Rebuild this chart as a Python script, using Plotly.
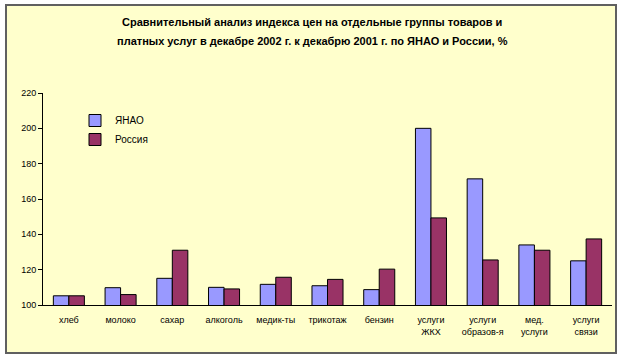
import plotly.graph_objects as go

categories = ["хлеб", "молоко", "сахар", "алкоголь", "медик-ты", "трикотаж", "бензин",
              "услуги<br>ЖКХ", "услуги<br>образов-я", "мед.<br>услуги", "услуги<br>связи"]
yanao = [105.2, 109.8, 115.1, 110.0, 111.7, 110.9, 108.7, 200.0, 171.4, 134.0, 125.0]
russia = [105.2, 105.9, 131.0, 109.1, 115.7, 114.5, 120.3, 149.3, 125.5, 131.0, 137.4]
yticks = [100, 120, 140, 160, 180, 200, 220]
title_lines = ["Сравнительный анализ индекса цен на отдельные группы товаров и",
               "платных услуг в декабре 2002 г. к декабрю 2001 г. по ЯНАО и России, %"]

fig = go.Figure()
fig.add_trace(go.Bar(name="ЯНАО", x=categories, y=yanao,
                     marker=dict(color="#9999FF", line=dict(color="#000000", width=1))))
fig.add_trace(go.Bar(name="Россия", x=categories, y=russia,
                     marker=dict(color="#993366", line=dict(color="#000000", width=1))))

L, R, T, B = 43, 612, 93, 305
W = R - L
H = B - T

def px(x):
    return (x - L) / W

def py(y):
    return (B - y) / H

annotations = []
for line, yc in zip(title_lines, [22, 41]):
    annotations.append(dict(text="<b>" + line + "</b>", xref="paper", yref="paper",
                            x=px(312), y=py(yc), xanchor="center", yanchor="middle",
                            showarrow=False,
                            font=dict(family="Arial, Liberation Sans", size=11, color="#000000")))

fig.update_layout(
    width=624, height=360,
    margin=dict(l=L, r=624 - R, t=T, b=360 - B),
    paper_bgcolor="#FFFFFF",
    plot_bgcolor="#FFFFCC",
    barmode="group", bargap=0.4, bargroupgap=0,
    font=dict(family="Arial, Liberation Sans", size=9, color="#000000"),
    annotations=annotations,
    legend=dict(x=px(75), y=py(106), xanchor="left", yanchor="top", bgcolor="rgba(0,0,0,0)",
                font=dict(size=10), itemwidth=30, tracegroupgap=2),
    showlegend=True,
    xaxis=dict(showline=True, linecolor="#000000", linewidth=1, ticks="", showgrid=False,
               tickfont=dict(size=9), ticklabelstandoff=6),
    yaxis=dict(range=[100, 220], tickvals=yticks, showline=True, linecolor="#000000", linewidth=1,
               ticks="outside", ticklen=4, tickcolor="#000000", showgrid=False, zeroline=False,
               tickfont=dict(size=9)),
    shapes=[
        dict(type="rect", xref="paper", yref="paper",
             x0=px(6), x1=px(616), y0=py(353), y1=py(5),
             fillcolor="#FFFFCC", line=dict(width=0), layer="below"),
        dict(type="rect", xref="paper", yref="paper",
             x0=px(6), x1=px(616), y0=py(353), y1=py(5),
             fillcolor="rgba(0,0,0,0)", line=dict(color="#606060", width=2), layer="above"),
    ],
)

fig.write_html("out.html", config={"displayModeBar": False},
               post_script="document.body.style.margin='0';document.body.style.overflow='hidden';")
